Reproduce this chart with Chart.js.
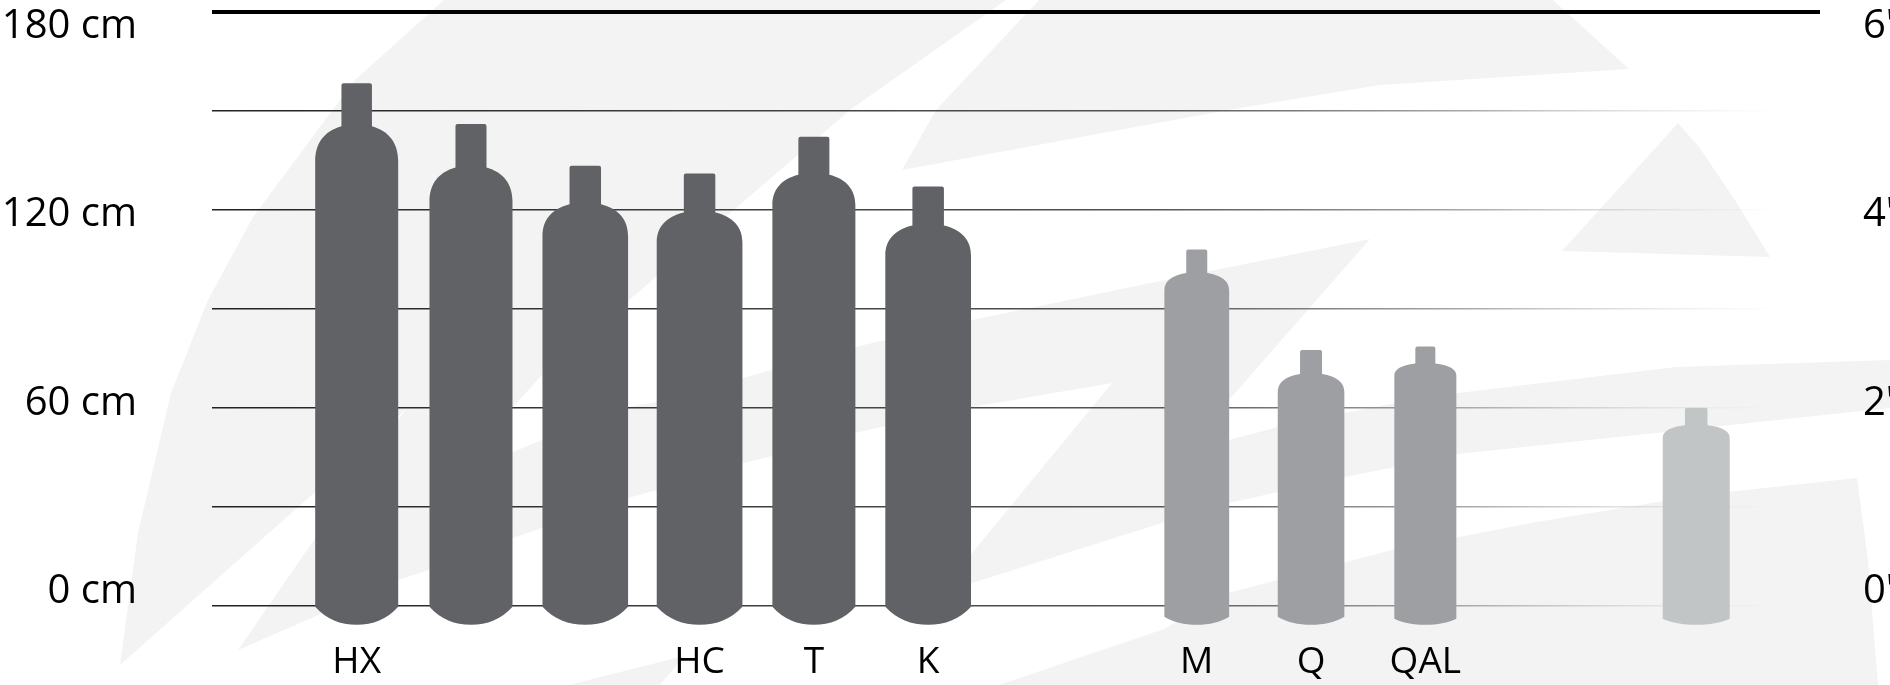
<!DOCTYPE html>
<html lang="en">
    <head>
        <meta charset="utf-8" />
        <title>Cylinder sizes</title>
        <script src="https://cdn.jsdelivr.net/npm/chart.js@4/dist/chart.umd.js"></script>
        <style>
            html, body { margin: 0; background: #fff; overflow: hidden; }
            canvas { display: block; }
        </style>
    </head>
    <body>
        <canvas id="cilindros" width="1890" height="685"></canvas>
        <script>
            // data
            const names = ["HX", "", "", "HC", "T", "K", "M", "Q", "QAL", ""];
            const heightsCm = [158.4, 146, 133.4, 131, 142.2, 127.1, 108, 77.5, 78.6, 60];
            const gridTicks = [0, 30, 60, 90, 120, 150, 180];
            const cmTicks = [0, 60, 120, 180];
            const feetTicks = [0, 2, 4, 6];

            // layout: where each bottle stands on the x axis (1 = one bottle slot)
            const slots = [0, 1, 2, 3, 4, 5, 7.35, 8.35, 9.35, 11.72];
            const DARK = "#616265", MID = "#9e9fa2", LIGHT = "#c1c5c5";
            const colors = [DARK, DARK, DARK, DARK, DARK, DARK, MID, MID, MID, LIGHT];
            // outline of each bottle, in px: w body, nw neck width, neck, shoulder, foot
            const outlines = [
                { w: 83, nw: 30.5, neck: 43, shoulder: 35, foot: 18 },
                { w: 83, nw: 31, neck: 43.5, shoulder: 34, foot: 18 },
                { w: 85.6, nw: 31.5, neck: 38.5, shoulder: 32, foot: 18 },
                { w: 85.7, nw: 31.5, neck: 39, shoulder: 30, foot: 18 },
                { w: 83, nw: 31, neck: 38, shoulder: 30.5, foot: 18 },
                { w: 85.7, nw: 31.5, neck: 39, shoulder: 30, foot: 18 },
                { w: 64.8, nw: 21, neck: 23.5, shoulder: 17.5, foot: 8 },
                { w: 66.6, nw: 22, neck: 24, shoulder: 18, foot: 8 },
                { w: 62, nw: 20, neck: 17, shoulder: 12, foot: 6 },
                { w: 67, nw: 22.5, neck: 17.5, shoulder: 12.5, foot: 6 }
            ];

            // pale logo behind the chart, page pixels
            const logo = [
                [[444, 0], [355, 80], [253, 217], [208, 300], [171, 393], [138, 533], [120, 665],
                 [314, 493], [406, 409], [314, 540], [238, 650], [314, 617], [398, 580], [429, 570],
                 [513, 538], [542, 528], [628, 498], [657, 490], [743, 463], [772, 456], [855, 433],
                 [972, 407], [1112, 383], [972, 553], [937, 595], [972, 583], [1165, 522], [1229, 503],
                 [1345, 477], [1395, 467], [1458, 454], [1890, 408], [1890, 360], [1676, 367],
                 [1458, 393], [1395, 403], [1345, 413], [1278, 427], [1229, 440], [1183, 452],
                 [1229, 400], [1370, 239], [1165, 280], [972, 320], [855, 347], [772, 370], [743, 378],
                 [657, 402], [628, 407], [542, 440], [513, 452], [448, 478], [513, 407], [542, 375],
                 [850, 110], [1006, 0]],
                [[1039, 0], [1553, 0], [1629, 69], [1380, 85], [1228, 110], [902, 170], [936, 110]],
                [[1678, 123], [1699, 147], [1735, 200], [1770, 257], [1562, 251]],
                [[999, 685], [1164, 629], [1228, 593], [1392, 550], [1531, 523], [1700, 495], [1857, 478],
                 [1868, 560], [1878, 685]],
                [[569, 685], [684, 656], [660, 685]]
            ];

            const fondo = {
                id: "fondo",
                beforeDraw(chart) {
                    const ctx = chart.ctx;
                    ctx.save();
                    ctx.fillStyle = "#f3f3f3";
                    logo.forEach((shape) => {
                        ctx.beginPath();
                        shape.forEach((p, i) => (i ? ctx.lineTo(p[0], p[1]) : ctx.moveTo(p[0], p[1])));
                        ctx.closePath();
                        ctx.fill();
                    });
                    ctx.restore();
                }
            };

            class BottleElement extends Chart.BarElement {
                static id = "bottle";
                draw(ctx) {
                    const s = outlines[this.$context.index];
                    const { x, y, base } = this;
                    const r = s.w / 2, n = s.nw / 2;
                    const ny = y + s.neck, by = ny + s.shoulder, fy = base - s.foot;
                    ctx.save();
                    ctx.fillStyle = this.options.backgroundColor;
                    ctx.beginPath();
                    ctx.moveTo(x - n, ny);
                    ctx.lineTo(x - n, y + 2);
                    ctx.quadraticCurveTo(x - n, y, x - n + 2, y);
                    ctx.lineTo(x + n - 2, y);
                    ctx.quadraticCurveTo(x + n, y, x + n, y + 2);
                    ctx.lineTo(x + n, ny);
                    ctx.bezierCurveTo(x + r * 0.78, ny + s.shoulder * 0.14, x + r, ny + s.shoulder * 0.48, x + r, by);
                    ctx.lineTo(x + r, fy);
                    ctx.bezierCurveTo(x + r * 0.72, base - s.foot * 0.3, x + r * 0.4, base, x, base);
                    ctx.bezierCurveTo(x - r * 0.4, base, x - r * 0.72, base - s.foot * 0.3, x - r, fy);
                    ctx.lineTo(x - r, by);
                    ctx.bezierCurveTo(x - r, ny + s.shoulder * 0.48, x - r * 0.78, ny + s.shoulder * 0.14, x - n, ny);
                    ctx.closePath();
                    ctx.fill();
                    ctx.restore();
                }
            }

            class BottleController extends Chart.BarController {
                static id = "bottle";
                static defaults = { ...Chart.BarController.defaults, dataElementType: "bottle" };
                static overrides = Chart.BarController.overrides;
            }

            Chart.register(BottleElement, BottleController);

            function fija(scale, size) {
                if (scale.isHorizontal()) scale.height = size;
                else scale.width = size;
                scale.paddingLeft = scale.paddingRight = scale.paddingTop = scale.paddingBottom = 0;
            }

            function fade(chart) {
                const g = chart.ctx.createLinearGradient(212, 0, 1784, 0);
                g.addColorStop(0, "#222");
                g.addColorStop(0.6, "#555");
                g.addColorStop(0.8, "#aaa");
                g.addColorStop(1, "rgba(220,220,220,0)");
                return g;
            }

            const labelFont = { family: "'Open Sans'", size: 40 };

            new Chart(document.querySelector("#cilindros").getContext("2d"), {
                type: "bottle",
                data: {
                    datasets: [{
                        data: slots.map((slot, i) => ({ x: slot, y: heightsCm[i] })),
                        backgroundColor: colors,
                        base: -5.8,
                        clip: false
                    }]
                },
                plugins: [fondo],
                options: {
                    responsive: false,
                    animation: false,
                    layout: { padding: { top: 12 } },
                    plugins: { legend: { display: false }, tooltip: { enabled: false } },
                    scales: {
                        x: {
                            type: "linear",
                            offset: false,
                            min: -1.266,
                            max: 12.803,
                            grid: { display: false },
                            border: { display: false },
                            afterBuildTicks: (s) => { s.ticks = slots.filter((_, i) => names[i]).map((v) => ({ value: v })); },
                            afterFit: (s) => fija(s, 60.3),
                            ticks: {
                                font: { family: "'Open Sans'", size: 37 },
                                color: "#000",
                                padding: 8,
                                autoSkip: false,
                                maxRotation: 0,
                                callback: (v) => names[slots.indexOf(v)]
                            }
                        },
                        y: {
                            min: -5.8,
                            max: 180,
                            position: "left",
                            border: { display: false },
                            afterBuildTicks: (s) => { s.ticks = gridTicks.map((v) => ({ value: v })); },
                            afterFit: (s) => fija(s, 0),
                            ticks: { display: false },
                            grid: {
                                drawTicks: false,
                                lineWidth: (c) => (c.tick.value === 180 ? 4 : 1.4),
                                color: (c) => (c.tick.value === 180 ? "#000" : fade(c.chart))
                            }
                        },
                        yCm: {
                            min: -10.4,
                            max: 184.6,
                            position: "left",
                            border: { display: false },
                            grid: { display: false },
                            afterBuildTicks: (s) => { s.ticks = cmTicks.map((v) => ({ value: v })); },
                            afterFit: (s) => fija(s, 212),
                            ticks: { font: labelFont, color: "#000", padding: 67, callback: (v) => v + " cm" }
                        },
                        yFt: {
                            min: -0.347,
                            max: 6.154,
                            position: "right",
                            border: { display: false },
                            grid: { display: false },
                            afterBuildTicks: (s) => { s.ticks = feetTicks.map((v) => ({ value: v })); },
                            afterFit: (s) => fija(s, 70),
                            ticks: { font: labelFont, color: "#000", padding: 35, callback: (v) => v + "'" }
                        }
                    }
                }
            });
        </script>
    </body>
</html>
